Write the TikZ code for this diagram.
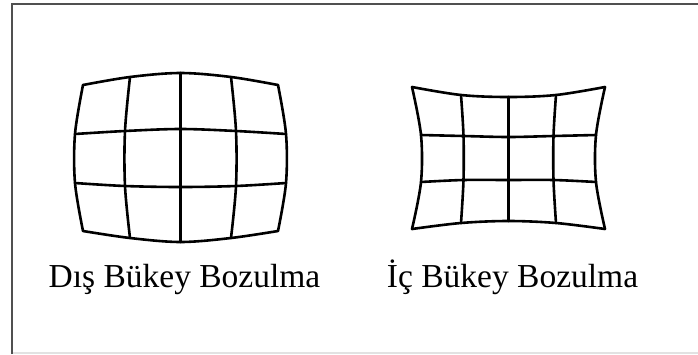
\documentclass[tikz,border=0pt]{standalone}
\usepackage{fontspec}
\setmainfont{Liberation Serif}
\usepackage{tikz}
\definecolor{frame}{HTML}{505050}
\definecolor{edge}{HTML}{E2E2E2}

\begin{document}
\begin{tikzpicture}[
  x=1pt,y=-1pt,
  grid/.style={draw=black,line width=2.6pt,line cap=round,line join=round},
  lbl/.style={anchor=base,inner sep=0pt,font=\fontsize{33.5}{40}\selectfont}
]
\useasboundingbox (0,0) rectangle (698,354);
% frame
\draw[edge,line width=1.2pt] (12,353) -- (698,353);
\draw[frame,line width=1.3pt] (12,354) -- (12,4) -- (698,4);
% barrel grid points
\foreach \r/\c/\px/\py in {0/0/83/85,0/1/130/77,0/2/180.5/73,0/3/231/77,0/4/278/85,
    1/0/75/134,1/1/125/131,1/2/180.5/129,1/3/236/131,1/4/286/134,
    2/0/75/183,2/1/125/186,2/2/180.5/187,2/3/236/186,2/4/286/183,
    3/0/83/231,3/1/130/238,3/2/180.5/242,3/3/231/238,3/4/278/231}
  \coordinate (b-\r-\c) at (\px,\py);
% pincushion grid points
\foreach \r/\c/\px/\py in {0/0/412/87,0/1/461/95,0/2/508.5/97,0/3/556/95,0/4/605/87,
    1/0/421/135,1/1/463.5/136,1/2/508.5/137,1/3/553.5/136,1/4/596/135,
    2/0/421/182,2/1/463.5/180,2/2/508.5/180,2/3/553.5/180,2/4/596/182,
    3/0/412/229,3/1/461/223,3/2/508.5/221,3/3/556/223,3/4/605/229}
  \coordinate (p-\r-\c) at (\px,\py);
% lines
\foreach \g in {b,p}{
  \foreach \r in {0,...,3}
    \draw[grid] plot[smooth,tension=0.55] coordinates
      {(\g-\r-0) (\g-\r-1) (\g-\r-2) (\g-\r-3) (\g-\r-4)};
  \foreach \c in {0,...,4}
    \draw[grid] plot[smooth,tension=0.55] coordinates
      {(\g-0-\c) (\g-1-\c) (\g-2-\c) (\g-3-\c)};
}
\node[lbl] (dis) at (184.5,287) {Dış Bükey Bozulma};
\node[lbl] (ic) at (512.5,287) {İç Bükey Bozulma};
\end{tikzpicture}
\end{document}
